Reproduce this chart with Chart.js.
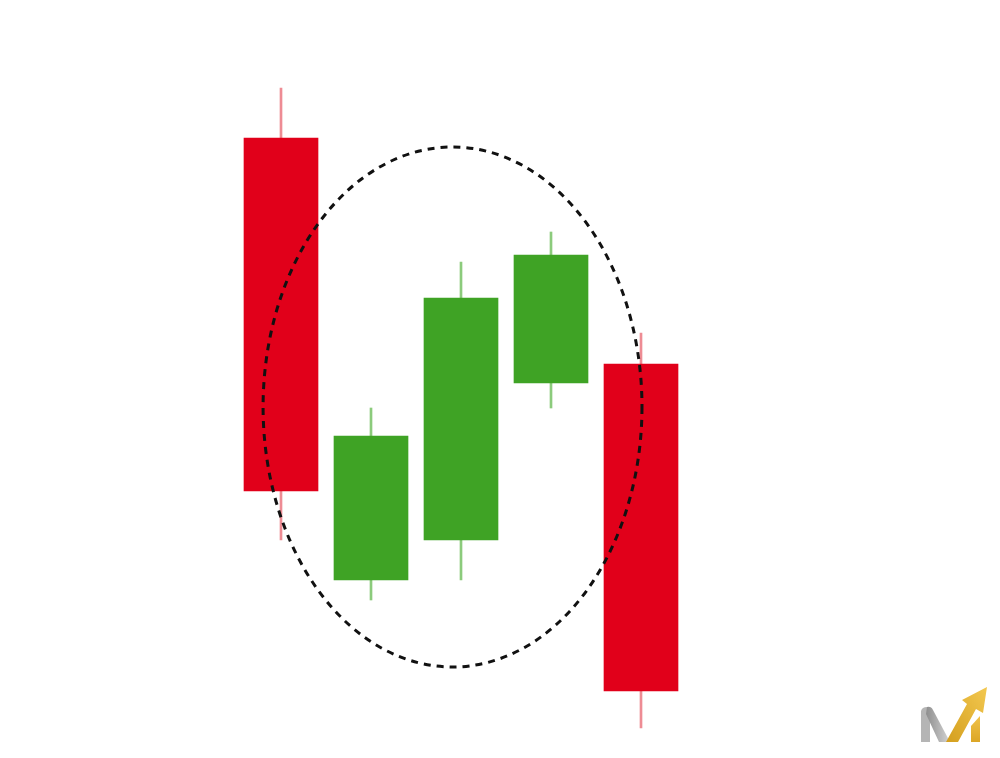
<!DOCTYPE html>
<html>
<head>
<meta charset="utf-8">
<script src="https://cdn.jsdelivr.net/npm/chart.js@4.4.1/dist/chart.umd.min.js"></script>
<style>
html,body{margin:0;padding:0;background:#fff;}
#wrap{position:relative;width:1000px;height:758px;}
#logo{position:absolute;left:915px;top:680px;width:80px;height:75px;}
</style>
</head>
<body>
<div id="wrap">
<canvas id="c" width="1000" height="758"></canvas>
<svg id="logo" viewBox="0 0 80 75" xmlns="http://www.w3.org/2000/svg">
  <defs>
    <linearGradient id="g1" x1="0" y1="0" x2="1" y2="0">
      <stop offset="0" stop-color="#8e8e8e"/><stop offset="1" stop-color="#d4d4d4"/>
    </linearGradient>
    <linearGradient id="g2" x1="0" y1="1" x2="1" y2="0">
      <stop offset="0" stop-color="#d49f1e"/><stop offset="1" stop-color="#f3c850"/>
    </linearGradient>
    <linearGradient id="g3" x1="0" y1="0" x2="0" y2="1">
      <stop offset="0" stop-color="#f0c24a"/><stop offset="1" stop-color="#dca626"/>
    </linearGradient>
  </defs>
  <path d="M6 31 Q7 27 12 27 L15 28 L15 62 L6 62 Z" fill="#b5b5b5"/>
  <path d="M12 27 Q16 26 18 30 L35 62 L24 62 L11 34 Z" fill="url(#g1)"/>
  <path d="M31 62 L52 24 L47 20 L72 7 L68 33 L61 29 L43 62 Z" fill="url(#g2)"/>
  <path d="M56 62 L65 62 L65 36 L56 46 Z" fill="url(#g3)"/>
</svg>
</div>
<script>
const categories = ["1", "2", "3", "4", "5"];
const openValues  = [620, 178, 218, 375, 394];
const closeValues = [267, 322, 460, 503, 67];
const highValues  = [670, 350, 496, 526, 425];
const lowValues   = [218, 158, 178, 350, 30];
const bodyColors  = ["#E1001A", "#3FA325", "#3FA325", "#3FA325", "#E1001A"];
const wickColors  = ["#EE8C94", "#8CCB7C", "#8CCB7C", "#8CCB7C", "#EE8C94"];
const ellipse = { cx: 1.906, cy: 351, rx: 2.105, ry: 260 };

const bodies = categories.map((c, i) => [Math.min(openValues[i], closeValues[i]), Math.max(openValues[i], closeValues[i])]);
const wicks = categories.map((c, i) => [lowValues[i], highValues[i]]);

const ellipsePlugin = {
  id: 'ellipse',
  afterDatasetsDraw(chart) {
    const x = chart.scales.x, y = chart.scales.y;
    const p0 = x.getPixelForValue(0), p1 = x.getPixelForValue(1);
    const step = p1 - p0;
    const cx = p0 + ellipse.cx * step;
    const rx = ellipse.rx * step;
    const cy = y.getPixelForValue(ellipse.cy);
    const ry = Math.abs(y.getPixelForValue(ellipse.cy + ellipse.ry) - cy);
    const ctx = chart.ctx;
    ctx.save();
    ctx.beginPath();
    ctx.ellipse(cx, cy, rx, ry, 0, 0, Math.PI * 2);
    ctx.setLineDash([7, 6]);
    ctx.lineWidth = 3;
    ctx.strokeStyle = '#111';
    ctx.stroke();
    ctx.restore();
  }
};

new Chart(document.getElementById('c'), {
  type: 'bar',
  data: {
    labels: categories,
    datasets: [
      { label: 'wick', data: wicks, backgroundColor: wickColors, barThickness: 2, grouped: false, order: 2 },
      { label: 'body', data: bodies, backgroundColor: bodyColors, barThickness: 74, grouped: false, order: 1 }
    ]
  },
  options: {
    responsive: false,
    animation: false,
    layout: { padding: { left: 236, right: 314, top: 0, bottom: 0 } },
    plugins: { legend: { display: false }, tooltip: { enabled: false } },
    scales: {
      x: { display: false, offset: true },
      y: { display: false, min: 0, max: 758 }
    }
  },
  plugins: [ellipsePlugin]
});
</script>
</body>
</html>
